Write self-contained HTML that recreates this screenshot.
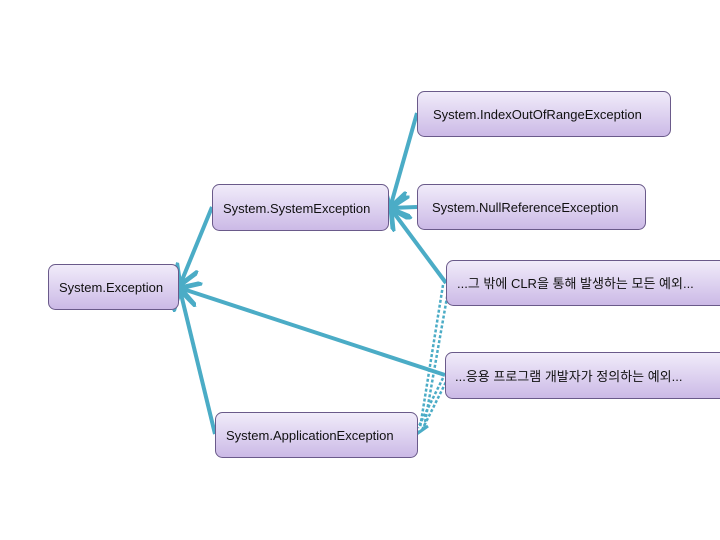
<!DOCTYPE html>
<html><head><meta charset="utf-8"><style>
html,body{margin:0;padding:0;background:#fff;}
svg{display:block;}
text{font-family:"Liberation Sans","Noto Sans CJK KR",sans-serif;font-size:13px;fill:#111;}
</style></head><body>
<svg width="720" height="540" viewBox="0 0 720 540" xmlns="http://www.w3.org/2000/svg">
<defs>
<linearGradient id="g" x1="0" y1="0" x2="0" y2="1">
<stop offset="0" stop-color="#f1ecfa"/><stop offset="1" stop-color="#cbb9e6"/>
</linearGradient>
<marker id="a" markerWidth="6" markerHeight="6" refX="5" refY="3" orient="auto" markerUnits="strokeWidth">
<path d="M0,0 L5,3 L0,6" fill="none" stroke="#4bacc6" stroke-width="1.2"/>
</marker>
</defs>
<g stroke="#4bacc6" stroke-width="4" fill="none">
<line x1="417" y1="113" x2="390" y2="208" marker-end="url(#a)"/>
<line x1="417" y1="207" x2="390" y2="208" marker-end="url(#a)"/>
<line x1="446" y1="283" x2="391" y2="209" marker-end="url(#a)"/>
<line x1="212" y1="207" x2="180" y2="285" marker-end="url(#a)"/>
<line x1="445" y1="375" x2="180" y2="288" marker-end="url(#a)"/>
<line x1="215" y1="434" x2="180" y2="290" marker-end="url(#a)"/>
</g>
<g stroke="#4bacc6" stroke-width="2.5" fill="none" stroke-dasharray="3,2">
<line x1="443" y1="285" x2="420" y2="428"/>
<line x1="449" y1="286" x2="424" y2="428"/>
<line x1="443" y1="378" x2="418" y2="428"/>
<line x1="448" y1="378" x2="422" y2="430"/>
</g>
<path d="M412,422 L418,433 L428,426" fill="none" stroke="#4bacc6" stroke-width="3"/>
<g stroke="#6a5a8a" stroke-width="1" fill="url(#g)">
<rect x="48.5" y="264.5" width="130" height="45" rx="7"/>
<rect x="212.5" y="184.5" width="176" height="46" rx="7"/>
<rect x="215.5" y="412.5" width="202" height="45" rx="7"/>
<rect x="417.5" y="91.5" width="253" height="45" rx="7"/>
<rect x="417.5" y="184.5" width="228" height="45" rx="7"/>
<rect x="446.5" y="260.5" width="290" height="45" rx="7"/>
<rect x="445.5" y="352.5" width="290" height="46" rx="7"/>
</g>
<text x="59" y="292">System.Exception</text>
<text x="223" y="213">System.SystemException</text>
<text x="226" y="440">System.ApplicationException</text>
<text x="433" y="119">System.IndexOutOfRangeException</text>
<text x="432" y="212">System.NullReferenceException</text>
<text x="457" y="288">...그 밖에 CLR을 통해 발생하는 모든 예외...</text>
<text x="455" y="381">...응용 프로그램 개발자가 정의하는 예외...</text>
</svg>
</body></html>
